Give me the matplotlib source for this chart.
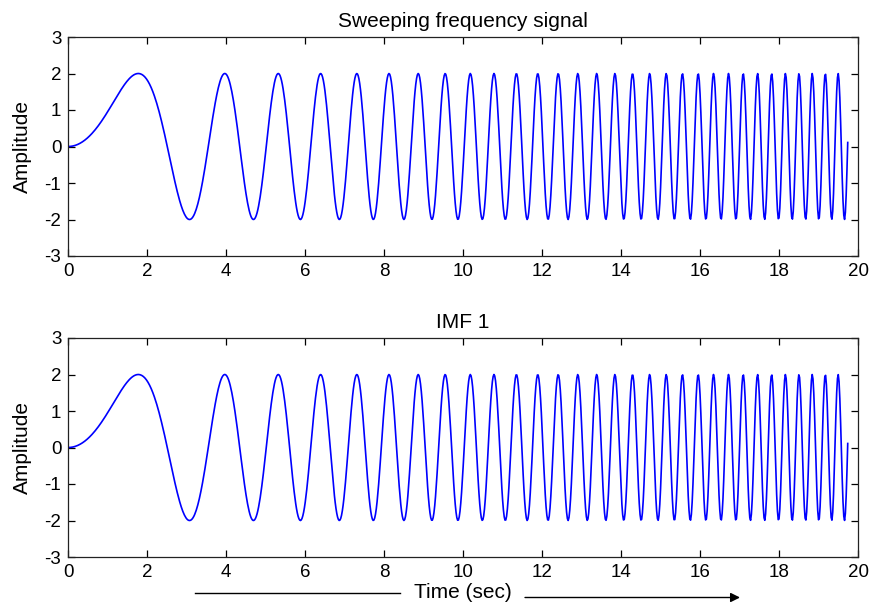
import numpy as np
import matplotlib
matplotlib.use("Agg")
import matplotlib.pyplot as plt

plt.rcParams['font.family'] = ['Liberation Sans', 'DejaVu Sans']
plt.rcParams['axes.unicode_minus'] = False

# Signal: a chirp of amplitude 2 whose first peak is at t=1.77 s,
# ending at t = 19.74 s (phase grows as t^2/2).
amplitude = 2.0
dt = 0.02
t_end = 19.74
t = np.arange(0, t_end + dt / 2, dt)
signal = amplitude * np.sin(t ** 2 / 2)
imf1 = signal.copy()

titles = ["Sweeping frequency signal", "IMF 1"]
xticks = [0, 2, 4, 6, 8, 10, 12, 14, 16, 18, 20]
yticks = [-3, -2, -1, 0, 1, 2, 3]

fig = plt.figure(figsize=(8.71, 6.07), dpi=100)
W, H = 871, 607
boxes = [(68.3, 37, 858, 256), (68.3, 338, 858, 557)]
for (x0, y0, x1, y1), ttl, y in zip(boxes, titles, [signal, imf1]):
    ax = fig.add_axes([x0 / W, 1 - y1 / H, (x1 - x0) / W, (y1 - y0) / H])
    ax.plot(t, y, color=(0, 0, 1), lw=1.2)
    ax.set_xlim(0, 20)
    ax.set_ylim(-3, 3)
    ax.set_xticks(xticks)
    ax.set_yticks(yticks)
    ax.tick_params(direction='in', top=True, right=True, length=5, width=0.9,
                   labelsize=13.5, pad=5, colors='black')
    for s in ax.spines.values():
        s.set_linewidth(0.9)
        s.set_color('#222222')
    ax.set_title(ttl, fontsize=15, pad=7)
    ax.set_ylabel("Amplitude", fontsize=15)
    ax.yaxis.set_label_coords(-0.046, 0.5)

fig.text(462.5 / W, 1 - 592 / H, "Time (sec)", ha='center', va='center', fontsize=15)
ann = fig.add_axes([0, 0, 1, 1], facecolor='none')
ann.set_xlim(0, W)
ann.set_ylim(H, 0)
ann.axis('off')
ann.plot([195, 400], [593, 593], color='black', lw=1.0)
ann.annotate("", xy=(740, 597.5), xytext=(525, 597.5),
             arrowprops=dict(arrowstyle='-|>', color='black', lw=1.0,
                             mutation_scale=14, shrinkA=0, shrinkB=0))

fig.savefig("out.png", dpi=100)
